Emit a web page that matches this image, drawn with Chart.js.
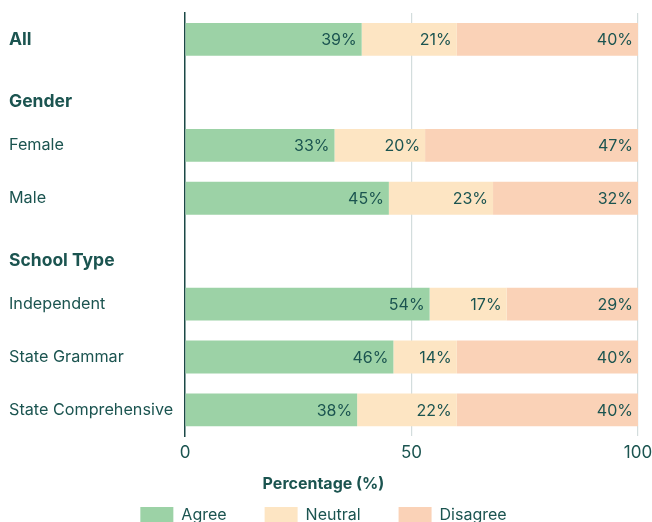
<!DOCTYPE html>
<html>
<head>
<meta charset="utf-8">
<script src="https://cdn.jsdelivr.net/npm/chart.js@4/dist/chart.umd.min.js"></script>
<style>
  html, body { margin: 0; padding: 0; overflow: hidden; background: #ffffff; }
  #wrap { width: 652px; height: 561px; position: relative; }
</style>
</head>
<body>
<div id="wrap"><canvas id="c"></canvas></div>
<script>
const categories = ['All', 'Gender', 'Female', 'Male', 'School Type', 'Independent', 'State Grammar', 'State Comprehensive'];
const headerLabels = ['All', 'Gender', 'School Type'];
const sectionHeaders = ['Gender', 'School Type'];
const agree    = [39, null, 33, 45, null, 54, 46, 38];
const neutral  = [21, null, 20, 23, null, 17, 14, 22];
const disagree = [40, null, 47, 32, null, 29, 40, 40];
const seriesNames = ['Agree', 'Neutral', 'Disagree'];
const xTicks = [0, 50, 100];

const TEXT = '#1b5450';
const FONT = 'Inter, "Open Sans", sans-serif';

const barLabels = {
  id: 'barLabels',
  afterDatasetsDraw(chart) {
    const ctx = chart.ctx;
    ctx.save();
    ctx.font = '400 16px ' + FONT;
    ctx.fillStyle = TEXT;
    ctx.textAlign = 'right';
    ctx.textBaseline = 'middle';
    chart.data.datasets.forEach((ds, di) => {
      const meta = chart.getDatasetMeta(di);
      meta.data.forEach((el, i) => {
        const v = ds.data[i];
        if (v === null || v === undefined) return;
        ctx.fillText(v + '%', el.x - 5, el.y + 1);
      });
    });
    ctx.restore();
  }
};

// keep the legend snug under the axis title while keeping wide item spacing
const legendSnug = {
  id: 'legendSnug',
  afterLayout(chart) {
    const lg = chart.legend;
    const t = chart.titleBlock;
    if (!lg || !t) return;
    const h = lg.height;
    lg.top = t.bottom - 27;
    lg.bottom = lg.top + h;
  }
};

new Chart(document.getElementById('c'), {
  type: 'bar',
  data: {
    labels: categories,
    datasets: [
      { label: seriesNames[0], data: agree, backgroundColor: '#9cd2a6' },
      { label: seriesNames[1], data: neutral, backgroundColor: '#fde5c3' },
      { label: seriesNames[2], data: disagree, backgroundColor: '#fad2b7' }
    ]
  },
  options: {
    indexAxis: 'y',
    responsive: true,
    maintainAspectRatio: false,
    animation: false,
    layout: { padding: { top: 13, left: 9, right: 14, bottom: 0 } },
    datasets: { bar: { categoryPercentage: 1, barPercentage: 0.62 } },
    scales: {
      x: {
        stacked: true,
        min: 0, max: 100,
        afterBuildTicks(scale) { scale.ticks = xTicks.map(v => ({ value: v })); },
        afterFit(scale) { scale.paddingLeft = 0; scale.paddingRight = 0; },
        grid: {
          color: (c) => (c.tick && c.tick.value === 0) ? 'rgba(0,0,0,0)' : '#d3dddd',
          lineWidth: 1.2,
          drawTicks: false
        },
        border: { display: false },
        ticks: { color: TEXT, font: { family: FONT, size: 17 }, padding: 6 }
      },
      y: {
        stacked: true,
        afterFit(scale) { scale.width = 176; scale.paddingTop = 0; scale.paddingBottom = 0; },
        grid: { display: false, drawTicks: false },
        border: { display: true, color: '#1b4846', width: 1.5 },
        ticks: {
          crossAlign: 'far',
          padding: 12,
          color: TEXT,
          callback(value, index) {
            const l = categories[index];
            return sectionHeaders.includes(l) ? ['', l] : l;
          },
          font(c) {
            const l = categories[c.index];
            const isHead = headerLabels.includes(l);
            return { family: FONT, size: isHead ? 17.5 : 16.2, weight: isHead ? '700' : '400', lineHeight: 1.1 };
          }
        }
      }
    },
    plugins: {
      tooltip: { enabled: false },
      title: {
        display: true,
        position: 'bottom',
        weight: 500,
        text: 'Percentage (%)',
        color: TEXT,
        font: { family: FONT, size: 16, weight: '700' },
        padding: { top: 6, bottom: 2 }
      },
      legend: {
        position: 'bottom',
        labels: {
          boxWidth: 33,
          boxHeight: 17,
          padding: 38,
          color: TEXT,
          font: { family: FONT, size: 16 }
        }
      }
    }
  },
  plugins: [barLabels, legendSnug]
});
</script>
</body>
</html>
